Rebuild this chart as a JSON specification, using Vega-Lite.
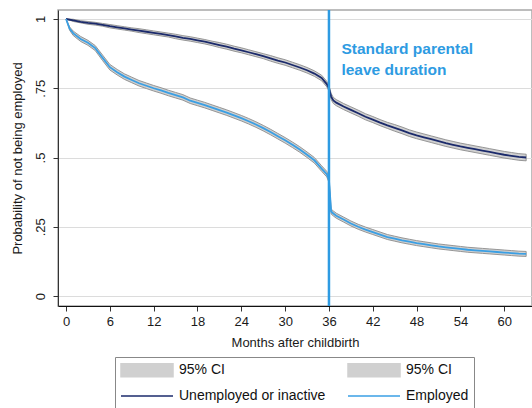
{
  "$schema": "https://vega.github.io/schema/vega-lite/v6.json",
  "width": 474,
  "height": 296,
  "autosize": {"type": "none"},
  "padding": {"left": 58, "top": 10, "right": 0, "bottom": 102},
  "background": "white",
  "datasets": {
    "curves": [
      {"m":0,"g":"U","p":1.0,"lo":1.0,"hi":1.0},
      {"m":1,"g":"U","p":0.995,"lo":0.991,"hi":0.999},
      {"m":2,"g":"U","p":0.99,"lo":0.986,"hi":0.994},
      {"m":3,"g":"U","p":0.986,"lo":0.981,"hi":0.991},
      {"m":4,"g":"U","p":0.983,"lo":0.978,"hi":0.988},
      {"m":5,"g":"U","p":0.979,"lo":0.974,"hi":0.984},
      {"m":6,"g":"U","p":0.974,"lo":0.968,"hi":0.98},
      {"m":7,"g":"U","p":0.97,"lo":0.964,"hi":0.976},
      {"m":8,"g":"U","p":0.966,"lo":0.96,"hi":0.972},
      {"m":9,"g":"U","p":0.962,"lo":0.956,"hi":0.968},
      {"m":10,"g":"U","p":0.958,"lo":0.951,"hi":0.965},
      {"m":11,"g":"U","p":0.954,"lo":0.947,"hi":0.961},
      {"m":12,"g":"U","p":0.95,"lo":0.943,"hi":0.957},
      {"m":13,"g":"U","p":0.946,"lo":0.939,"hi":0.953},
      {"m":14,"g":"U","p":0.942,"lo":0.935,"hi":0.949},
      {"m":15,"g":"U","p":0.937,"lo":0.929,"hi":0.945},
      {"m":16,"g":"U","p":0.932,"lo":0.924,"hi":0.94},
      {"m":17,"g":"U","p":0.928,"lo":0.92,"hi":0.936},
      {"m":18,"g":"U","p":0.923,"lo":0.915,"hi":0.931},
      {"m":19,"g":"U","p":0.918,"lo":0.91,"hi":0.926},
      {"m":20,"g":"U","p":0.912,"lo":0.904,"hi":0.92},
      {"m":21,"g":"U","p":0.906,"lo":0.897,"hi":0.915},
      {"m":22,"g":"U","p":0.9,"lo":0.891,"hi":0.909},
      {"m":23,"g":"U","p":0.893,"lo":0.884,"hi":0.902},
      {"m":24,"g":"U","p":0.887,"lo":0.878,"hi":0.896},
      {"m":25,"g":"U","p":0.88,"lo":0.871,"hi":0.889},
      {"m":26,"g":"U","p":0.873,"lo":0.864,"hi":0.882},
      {"m":27,"g":"U","p":0.866,"lo":0.857,"hi":0.875},
      {"m":28,"g":"U","p":0.858,"lo":0.848,"hi":0.868},
      {"m":29,"g":"U","p":0.85,"lo":0.84,"hi":0.86},
      {"m":30,"g":"U","p":0.843,"lo":0.833,"hi":0.853},
      {"m":31,"g":"U","p":0.834,"lo":0.824,"hi":0.844},
      {"m":32,"g":"U","p":0.825,"lo":0.815,"hi":0.835},
      {"m":33,"g":"U","p":0.815,"lo":0.805,"hi":0.825},
      {"m":34,"g":"U","p":0.803,"lo":0.793,"hi":0.813},
      {"m":35,"g":"U","p":0.787,"lo":0.777,"hi":0.797},
      {"m":35.7,"g":"U","p":0.765,"lo":0.755,"hi":0.775},
      {"m":36,"g":"U","p":0.75,"lo":0.74,"hi":0.76},
      {"m":36.3,"g":"U","p":0.72,"lo":0.709,"hi":0.731},
      {"m":36.6,"g":"U","p":0.706,"lo":0.695,"hi":0.717},
      {"m":37,"g":"U","p":0.698,"lo":0.687,"hi":0.709},
      {"m":38,"g":"U","p":0.684,"lo":0.673,"hi":0.695},
      {"m":39,"g":"U","p":0.672,"lo":0.661,"hi":0.683},
      {"m":40,"g":"U","p":0.66,"lo":0.649,"hi":0.671},
      {"m":41,"g":"U","p":0.647,"lo":0.636,"hi":0.658},
      {"m":42,"g":"U","p":0.637,"lo":0.626,"hi":0.648},
      {"m":43,"g":"U","p":0.626,"lo":0.615,"hi":0.637},
      {"m":44,"g":"U","p":0.616,"lo":0.605,"hi":0.627},
      {"m":45,"g":"U","p":0.607,"lo":0.595,"hi":0.619},
      {"m":46,"g":"U","p":0.598,"lo":0.586,"hi":0.61},
      {"m":47,"g":"U","p":0.588,"lo":0.576,"hi":0.6},
      {"m":48,"g":"U","p":0.58,"lo":0.568,"hi":0.592},
      {"m":49,"g":"U","p":0.573,"lo":0.561,"hi":0.585},
      {"m":50,"g":"U","p":0.566,"lo":0.554,"hi":0.578},
      {"m":51,"g":"U","p":0.559,"lo":0.547,"hi":0.571},
      {"m":52,"g":"U","p":0.552,"lo":0.54,"hi":0.564},
      {"m":53,"g":"U","p":0.546,"lo":0.534,"hi":0.558},
      {"m":54,"g":"U","p":0.54,"lo":0.528,"hi":0.552},
      {"m":55,"g":"U","p":0.535,"lo":0.523,"hi":0.547},
      {"m":56,"g":"U","p":0.53,"lo":0.518,"hi":0.542},
      {"m":57,"g":"U","p":0.525,"lo":0.513,"hi":0.537},
      {"m":58,"g":"U","p":0.52,"lo":0.508,"hi":0.532},
      {"m":59,"g":"U","p":0.515,"lo":0.503,"hi":0.527},
      {"m":60,"g":"U","p":0.51,"lo":0.498,"hi":0.522},
      {"m":61,"g":"U","p":0.506,"lo":0.494,"hi":0.518},
      {"m":62,"g":"U","p":0.502,"lo":0.49,"hi":0.514},
      {"m":63,"g":"U","p":0.5,"lo":0.488,"hi":0.512},
      {"m":0,"g":"E","p":1.0,"lo":1.0,"hi":1.0},
      {"m":0.5,"g":"E","p":0.965,"lo":0.959,"hi":0.971},
      {"m":1,"g":"E","p":0.948,"lo":0.94,"hi":0.956},
      {"m":2,"g":"E","p":0.928,"lo":0.919,"hi":0.937},
      {"m":3,"g":"E","p":0.914,"lo":0.905,"hi":0.923},
      {"m":4,"g":"E","p":0.895,"lo":0.886,"hi":0.904},
      {"m":5,"g":"E","p":0.86,"lo":0.85,"hi":0.87},
      {"m":6,"g":"E","p":0.826,"lo":0.816,"hi":0.836},
      {"m":7,"g":"E","p":0.808,"lo":0.798,"hi":0.818},
      {"m":8,"g":"E","p":0.792,"lo":0.782,"hi":0.802},
      {"m":9,"g":"E","p":0.78,"lo":0.77,"hi":0.79},
      {"m":10,"g":"E","p":0.768,"lo":0.758,"hi":0.778},
      {"m":11,"g":"E","p":0.759,"lo":0.749,"hi":0.769},
      {"m":12,"g":"E","p":0.75,"lo":0.74,"hi":0.76},
      {"m":13,"g":"E","p":0.742,"lo":0.732,"hi":0.752},
      {"m":14,"g":"E","p":0.733,"lo":0.723,"hi":0.743},
      {"m":15,"g":"E","p":0.725,"lo":0.715,"hi":0.735},
      {"m":16,"g":"E","p":0.717,"lo":0.707,"hi":0.727},
      {"m":17,"g":"E","p":0.705,"lo":0.695,"hi":0.715},
      {"m":18,"g":"E","p":0.697,"lo":0.687,"hi":0.707},
      {"m":19,"g":"E","p":0.689,"lo":0.679,"hi":0.699},
      {"m":20,"g":"E","p":0.68,"lo":0.67,"hi":0.69},
      {"m":21,"g":"E","p":0.671,"lo":0.661,"hi":0.681},
      {"m":22,"g":"E","p":0.662,"lo":0.652,"hi":0.672},
      {"m":23,"g":"E","p":0.652,"lo":0.642,"hi":0.662},
      {"m":24,"g":"E","p":0.642,"lo":0.632,"hi":0.652},
      {"m":25,"g":"E","p":0.631,"lo":0.621,"hi":0.641},
      {"m":26,"g":"E","p":0.619,"lo":0.609,"hi":0.629},
      {"m":27,"g":"E","p":0.606,"lo":0.596,"hi":0.616},
      {"m":28,"g":"E","p":0.592,"lo":0.582,"hi":0.602},
      {"m":29,"g":"E","p":0.577,"lo":0.567,"hi":0.587},
      {"m":30,"g":"E","p":0.562,"lo":0.552,"hi":0.572},
      {"m":31,"g":"E","p":0.546,"lo":0.536,"hi":0.556},
      {"m":32,"g":"E","p":0.529,"lo":0.519,"hi":0.539},
      {"m":33,"g":"E","p":0.51,"lo":0.5,"hi":0.52},
      {"m":34,"g":"E","p":0.49,"lo":0.48,"hi":0.5},
      {"m":35,"g":"E","p":0.46,"lo":0.45,"hi":0.47},
      {"m":35.7,"g":"E","p":0.44,"lo":0.43,"hi":0.45},
      {"m":36,"g":"E","p":0.42,"lo":0.41,"hi":0.43},
      {"m":36.3,"g":"E","p":0.305,"lo":0.296,"hi":0.314},
      {"m":36.6,"g":"E","p":0.298,"lo":0.289,"hi":0.307},
      {"m":37,"g":"E","p":0.29,"lo":0.281,"hi":0.299},
      {"m":38,"g":"E","p":0.276,"lo":0.267,"hi":0.285},
      {"m":39,"g":"E","p":0.262,"lo":0.253,"hi":0.271},
      {"m":40,"g":"E","p":0.25,"lo":0.241,"hi":0.259},
      {"m":41,"g":"E","p":0.24,"lo":0.231,"hi":0.249},
      {"m":42,"g":"E","p":0.231,"lo":0.222,"hi":0.24},
      {"m":43,"g":"E","p":0.222,"lo":0.213,"hi":0.231},
      {"m":44,"g":"E","p":0.213,"lo":0.204,"hi":0.222},
      {"m":45,"g":"E","p":0.207,"lo":0.198,"hi":0.216},
      {"m":46,"g":"E","p":0.201,"lo":0.192,"hi":0.21},
      {"m":47,"g":"E","p":0.196,"lo":0.187,"hi":0.205},
      {"m":48,"g":"E","p":0.191,"lo":0.182,"hi":0.2},
      {"m":49,"g":"E","p":0.187,"lo":0.178,"hi":0.196},
      {"m":50,"g":"E","p":0.183,"lo":0.174,"hi":0.192},
      {"m":51,"g":"E","p":0.179,"lo":0.17,"hi":0.188},
      {"m":52,"g":"E","p":0.176,"lo":0.167,"hi":0.185},
      {"m":53,"g":"E","p":0.173,"lo":0.164,"hi":0.182},
      {"m":54,"g":"E","p":0.17,"lo":0.161,"hi":0.179},
      {"m":55,"g":"E","p":0.167,"lo":0.158,"hi":0.176},
      {"m":56,"g":"E","p":0.165,"lo":0.156,"hi":0.174},
      {"m":57,"g":"E","p":0.163,"lo":0.154,"hi":0.172},
      {"m":58,"g":"E","p":0.161,"lo":0.152,"hi":0.17},
      {"m":59,"g":"E","p":0.159,"lo":0.15,"hi":0.168},
      {"m":60,"g":"E","p":0.157,"lo":0.148,"hi":0.166},
      {"m":61,"g":"E","p":0.155,"lo":0.146,"hi":0.164},
      {"m":62,"g":"E","p":0.153,"lo":0.144,"hi":0.162},
      {"m":63,"g":"E","p":0.152,"lo":0.143,"hi":0.161}
    ],
    "leave": [{"m": 36}],
    "ann": [{"m": 37.7, "p": 0.872, "t": ["Standard parental", "leave duration"]}]
  },
  "config": {
    "font": "Liberation Sans",
    "view": {"stroke": "#a8a8a8", "strokeWidth": 1.5},
    "axis": {
      "labelFont": "Liberation Sans",
      "titleFont": "Liberation Sans",
      "labelFontSize": 13,
      "titleFontSize": 13,
      "titleFontWeight": "normal",
      "labelColor": "#1a1a1a",
      "titleColor": "#1a1a1a",
      "tickColor": "#333333",
      "domainColor": "#333333",
      "tickSize": 5
    },
    "legend": {
      "orient": "none",
      "legendX": 57,
      "legendY": 347,
      "direction": "horizontal",
      "columns": 2,
      "columnPadding": 19,
      "rowPadding": 8,
      "padding": 5,
      "strokeColor": "#888888",
      "fillColor": "white",
      "symbolSize": 196,
      "symbolStrokeWidth": 1.5,
      "labelFontSize": 14,
      "labelFont": "Liberation Sans",
      "labelColor": "#111111",
      "labelOffset": 43
    }
  },
  "layer": [
    {
      "data": {"name": "curves"},
      "transform": [{"filter": "datum.g == 'U'"}],
      "mark": {"type": "area", "stroke": "#8c8c8c", "strokeWidth": 0.9, "opacity": 1},
      "encoding": {
        "x": {
          "field": "m", "type": "quantitative",
          "scale": {"domain": [-1.1, 63.8], "nice": false, "zero": false},
          "axis": {"values": [0, 6, 12, 18, 24, 30, 36, 42, 48, 54, 60], "grid": false, "labelPadding": 4, "titlePadding": 8, "domainColor": "#111111"},
          "title": "Months after childbirth"
        },
        "y": {
          "field": "lo", "type": "quantitative",
          "scale": {"domain": [-0.036, 1.0325], "nice": false, "zero": false},
          "axis": {
            "values": [0, 0.25, 0.5, 0.75, 1],
            "labelExpr": "datum.value == 0 ? '0' : datum.value == 1 ? '1' : datum.value == 0.5 ? '.5' : datum.value == 0.25 ? '.25' : '.75'",
            "labelAngle": 270,
            "labelAlign": "center",
            "labelBaseline": "bottom",
            "labelPadding": 6,
            "grid": true,
            "gridColor": "#dcdcdc",
            "titlePadding": 10
          },
          "title": "Probability of not being employed"
        },
        "y2": {"field": "hi"},
        "color": {
          "datum": "CI1",
          "scale": {"domain": ["CI1", "CI2", "U", "E"], "range": ["#d0d0d0", "#d0d0d0", "#1b2a6b", "#3a9fe4"]}
        }
      }
    },
    {
      "data": {"name": "curves"},
      "transform": [{"filter": "datum.g == 'E'"}],
      "mark": {"type": "area", "stroke": "#8c8c8c", "strokeWidth": 0.9, "opacity": 1},
      "encoding": {
        "x": {"field": "m", "type": "quantitative"},
        "y": {"field": "lo", "type": "quantitative"},
        "y2": {"field": "hi"},
        "color": {"datum": "CI2"}
      }
    },
    {
      "data": {"name": "curves"},
      "mark": {"type": "line", "strokeWidth": 1.8},
      "encoding": {
        "x": {"field": "m", "type": "quantitative"},
        "y": {"field": "p", "type": "quantitative"},
        "color": {
          "field": "g", "type": "nominal",
          "legend": {
            "title": null,
            "labelExpr": "datum.value == 'U' ? 'Unemployed or inactive' : datum.value == 'E' ? 'Employed' : '95% CI'",
            "encode": {
              "symbols": {
                "update": {
                  "shape": {"signal": "datum.value == 'U' || datum.value == 'E' ? 'M-1,0H6.43' : 'M-1,-0.93H6.43V0.93H-1Z'"},
                  "fill": {"signal": "datum.value == 'U' || datum.value == 'E' ? 'transparent' : '#d3d3d3'"},
                  "stroke": {"signal": "datum.value == 'U' ? '#1b2a6b' : datum.value == 'E' ? '#3a9fe4' : 'transparent'"},
                  "size": {"value": 196},
                  "opacity": {"value": 1},
                  "fillOpacity": {"value": 1},
                  "strokeOpacity": {"value": 1}
                }
              }
            }
          }
        }
      }
    },
    {
      "data": {"name": "leave"},
      "mark": {"type": "rule", "color": "#2e9be2", "strokeWidth": 2.5},
      "encoding": {"x": {"field": "m", "type": "quantitative"}}
    },
    {
      "data": {"name": "ann"},
      "mark": {"type": "text", "align": "left", "baseline": "alphabetic", "fontSize": 15.5, "fontWeight": "bold", "lineHeight": 21, "color": "#2e9be2", "font": "Liberation Sans"},
      "encoding": {
        "x": {"field": "m", "type": "quantitative"},
        "y": {"field": "p", "type": "quantitative"},
        "text": {"field": "t"}
      }
    }
  ]
}
